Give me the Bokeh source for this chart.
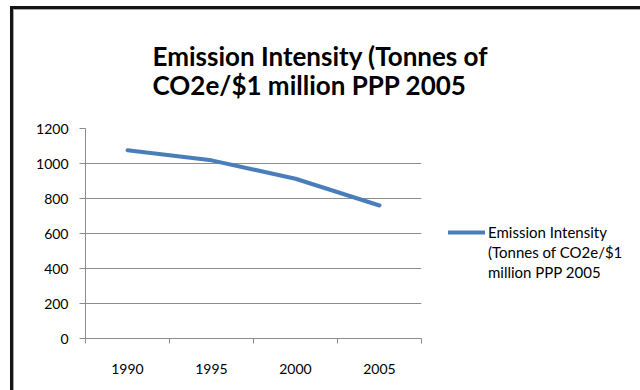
from bokeh.plotting import figure
from bokeh.models import (FactorRange, Range1d, LinearAxis, FixedTicker,
                          SingleIntervalTicker, Title, Legend, LegendItem)
from bokeh.embed import file_html
from bokeh.resources import INLINE

# ---- data ----
years = ["1990", "1995", "2000", "2005"]
intensity = [1076, 1018, 913, 760]
series_name = ["Emission Intensity", "(Tonnes of CO2e/$1", "million PPP 2005"]
title_lines = ["Emission Intensity (Tonnes of", "CO2e/$1 million PPP 2005"]

FONT = "Lato"
GRID = "#8c8c8c"
BLUE = "#4a7ebb"

p = figure(frame_width=336, frame_height=210,
           x_range=FactorRange(*years, range_padding=0, factor_padding=0),
           y_range=Range1d(0, 1200),
           x_axis_location=None, title=None,
           toolbar_location=None, output_backend="svg",
           min_border_left=71, min_border_right=219,
           min_border_top=112, min_border_bottom=58)
p.styles = {"position": "absolute", "left": "10px", "top": "6px",
            "border-left": "3px solid #151515", "border-top": "3px solid #151515",
            "border-right": "none", "border-bottom": "none",
            "padding-left": "1px", "padding-top": "1px",
            "box-shadow": "inset 1px 1px 0 #a8a8a8"}
p.outline_line_color = None
p.background_fill_color = "white"
p.border_fill_color = "white"

# y axis
yax = p.yaxis[0]
yax.ticker = SingleIntervalTicker(interval=200, num_minor_ticks=0)
yax.major_tick_in = 0
yax.major_tick_out = 6
yax.minor_tick_out = 0
yax.minor_tick_in = 0
yax.axis_line_color = GRID
yax.major_tick_line_color = GRID
yax.major_label_text_font = FONT
yax.major_label_text_font_size = "14px"
yax.major_label_text_color = "#000000"
yax.major_label_standoff = 11

p.ygrid.grid_line_color = GRID
p.ygrid.grid_line_width = 1
p.xgrid.visible = False

# x axis: labels at category centres, tick marks at category boundaries
centres = [i + 0.5 for i in range(len(years))]
bounds = [float(i) for i in range(len(years) + 1)]
xax = LinearAxis(ticker=FixedTicker(ticks=centres, minor_ticks=bounds),
                 major_label_overrides={c: y for c, y in zip(centres, years)})
xax.major_tick_in = 0
xax.major_tick_out = 0
xax.minor_tick_in = 0
xax.minor_tick_out = 5
xax.axis_line_color = GRID
xax.minor_tick_line_color = GRID
xax.major_label_text_font = FONT
xax.major_label_text_font_size = "14px"
xax.major_label_text_color = "#000000"
xax.major_label_standoff = 20
p.add_layout(xax, "below")

r = p.line(x=years, y=intensity, line_width=4, line_color=BLUE, line_cap="round",
           line_join="round")
blank = p.line(x=years, y=intensity, line_alpha=0)

legend = Legend(items=[LegendItem(label=series_name[0], renderers=[r]),
                       LegendItem(label=series_name[1], renderers=[blank]),
                       LegendItem(label=series_name[2], renderers=[blank])],
                location=(27, 56), margin=0, padding=0, spacing=0,
                glyph_width=37, glyph_height=20, label_height=20, label_standoff=3,
                border_line_color=None, background_fill_alpha=0,
                label_text_font=FONT, label_text_font_size="15px",
                label_text_color="#000000")
p.add_layout(legend, "right")

title = Title(text="\n".join(title_lines), align="left", offset=67, standoff=55,
              text_font=FONT, text_font_size="26px", text_font_style="bold",
              text_color="#000000", text_line_height=0.9)
p.add_layout(title, "above")

open("out.html", "w").write(file_html(p, INLINE))
